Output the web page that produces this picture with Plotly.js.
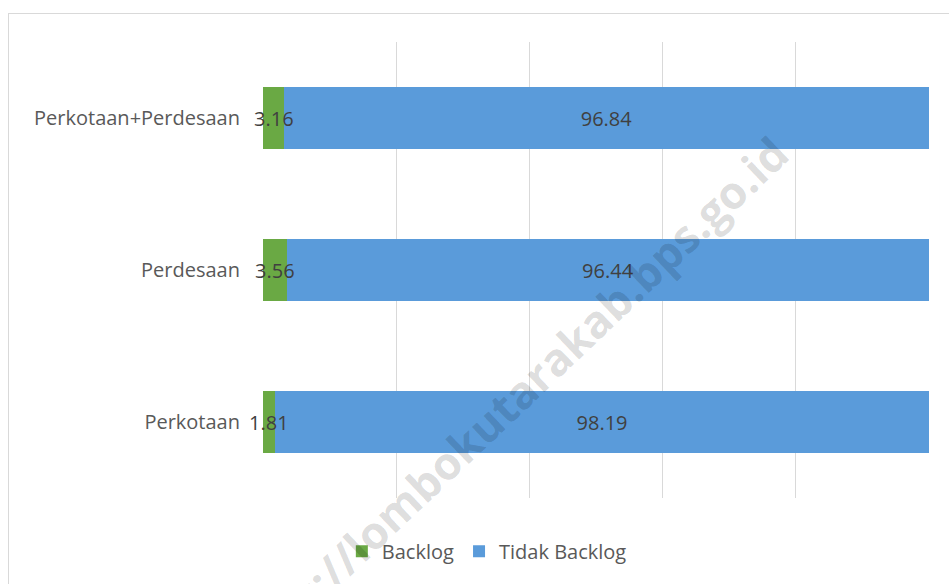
<!DOCTYPE html>
<html>
<head>
<meta charset="utf-8">
<script src="https://cdn.plot.ly/plotly-3.0.1.min.js"></script>
<style>
  html, body { margin: 0; padding: 0; background: #fff; }
  #wrap { position: relative; width: 949px; height: 584px; overflow: hidden; }
  #chart { width: 949px; height: 584px; }
  #frame { position: absolute; left: 8px; top: 13px; width: 960px; height: 600px;
           border: 1px solid #d9d9d9; pointer-events: none; }
</style>
</head>
<body>
<div id="wrap">
  <div id="chart"></div>
  <div id="frame"></div>
</div>
<script>
const categories = ['Perkotaan', 'Perdesaan', 'Perkotaan+Perdesaan'];
const backlog = [1.81, 3.56, 3.16];
const tidakBacklog = [98.19, 96.44, 96.84];
const seriesNames = ['Backlog', 'Tidak Backlog'];
const watermark = 'https://lombokutarakab.bps.go.id';

const FONT = '"Open Sans", "Noto Sans", sans-serif';
const LABEL_FONT = { family: FONT, size: 20, color: '#404040' };

const traces = [
  {
    type: 'bar', orientation: 'h', name: seriesNames[0],
    y: categories, x: backlog,
    textposition: 'none',
    marker: { color: '#6aa944' }
  },
  {
    type: 'bar', orientation: 'h', name: seriesNames[1],
    y: categories, x: tidakBacklog,
    text: tidakBacklog.map(v => v.toFixed(2)),
    textposition: 'inside', insidetextanchor: 'middle', textangle: 0,
    textfont: LABEL_FONT,
    marker: { color: '#5a9bda' }
  }
];

// labels for the thin Backlog segments (they overflow their bars)
const backlogLabels = categories.map((c, i) => ({
  text: backlog[i].toFixed(2), x: backlog[i] / 2, y: c,
  xref: 'x', yref: 'y', showarrow: false,
  xanchor: 'center', yanchor: 'middle', font: LABEL_FONT
}));

const layout = {
  width: 949, height: 584,
  margin: { l: 263, r: 20, t: 42, b: 86 },
  paper_bgcolor: '#ffffff', plot_bgcolor: '#ffffff',
  barmode: 'stack', bargap: 0.59,
  hovermode: false,
  font: { family: FONT, color: '#595959' },
  xaxis: {
    range: [0, 100], dtick: 20, showticklabels: false,
    showgrid: true, gridcolor: '#d9d9d9', gridwidth: 1,
    zeroline: false, showline: false, ticks: '', fixedrange: true
  },
  yaxis: {
    type: 'category', showgrid: false, zeroline: false, showline: false,
    ticks: '', ticklabelstandoff: 22,
    tickfont: { family: FONT, size: 20, color: '#595959' }, fixedrange: true
  },
  showlegend: true,
  legend: {
    orientation: 'h', xref: 'container', yref: 'container',
    x: 0.513, xanchor: 'center', y: 0.056, yanchor: 'middle',
    font: { family: FONT, size: 20, color: '#595959' },
    traceorder: 'normal', itemwidth: 30
  },
  annotations: backlogLabels.concat([
    {
      text: watermark, xref: 'paper', yref: 'paper',
      x: 0.362, y: 0.2, xanchor: 'center', yanchor: 'middle',
      showarrow: false, textangle: -43.5,
      font: { family: FONT, size: 45, weight: 700, color: 'rgba(0,0,0,0.14)' }
    }
  ])
};

Plotly.newPlot('chart', traces, layout, { displayModeBar: false, staticPlot: true });
</script>
</body>
</html>
